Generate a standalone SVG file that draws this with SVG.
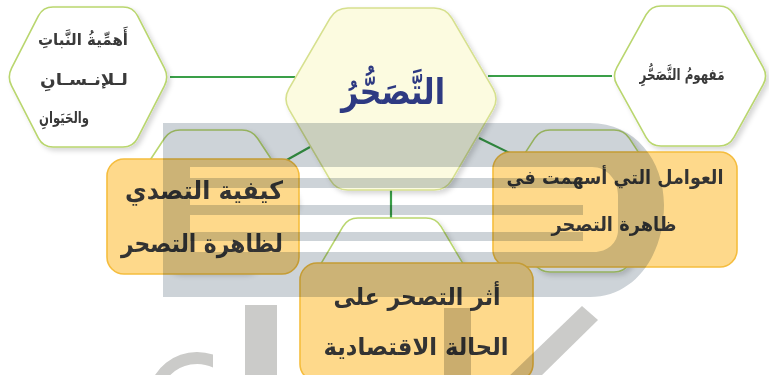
<svg xmlns="http://www.w3.org/2000/svg" width="769" height="375" viewBox="0 0 769 375">
<style>
  .hex { fill: #ffffff; stroke: #b9d66e; stroke-width: 1.6; filter: url(#sh); }
  .hexc { fill: #fcfbe0; stroke: #d6e08e; stroke-width: 1.6; filter: url(#sh); }
  .box { fill: #fed98b; stroke: #f5bd3e; stroke-width: 1.6; }
  .conn { stroke: #3a9f48; stroke-width: 2.2; fill: none; }
  .ht { font-family: "DejaVu Sans", "Noto Sans", sans-serif; font-weight: bold; font-size: 16px; fill: #3a3a3a; text-anchor: middle; }
  .bt { font-family: "DejaVu Sans", "Noto Sans", sans-serif; font-weight: bold; fill: #333333; text-anchor: middle; }
  .title { font-family: "DejaVu Sans", "Noto Sans", sans-serif; font-weight: bold; font-size: 36px; fill: #2e3a82; text-anchor: middle; }
  .wm { mix-blend-mode: multiply; }
  .wmd { fill: #cdd3d8; }
  .wml { fill: #cbcbc9; }
</style>
<defs>
  <filter id="sh" x="-10%" y="-10%" width="125%" height="125%">
    <feDropShadow dx="3" dy="3" stdDeviation="2.5" flood-color="#000000" flood-opacity="0.16"/>
  </filter>
</defs>
<rect width="769" height="375" fill="#ffffff"/>

<g id="connectors">
  <line class="conn" x1="170" y1="77" x2="295" y2="77"/>
  <line class="conn" x1="488" y1="76" x2="612" y2="76"/>
  <line class="conn" x1="310" y1="147" x2="276" y2="166"/>
  <line class="conn" x1="479" y1="138" x2="522" y2="159"/>
  <line class="conn" x1="391" y1="190" x2="391" y2="218"/>
</g>

<g id="node-importance">
  <path class="hex" d="M 53,7 H 123 Q 133,7 137.6,15.9 L 164.4,68.1 Q 169,77 164.4,85.9 L 137.6,138.1 Q 133,147 123,147 H 53 Q 43,147 38.4,138.1 L 11.6,85.9 Q 7,77 11.6,68.1 L 38.4,15.9 Q 43,7 53,7 Z"/>
  <text class="ht" x="83" y="45" textLength="90" lengthAdjust="spacingAndGlyphs">أَهمِّيةُ النَّباتِ</text>
  <text class="ht" x="84" y="85" textLength="88" lengthAdjust="spacingAndGlyphs">لـلإنـسـانِ</text>
  <text class="ht" x="64" y="123" textLength="50" lengthAdjust="spacingAndGlyphs">والحَيَوانِ</text>
</g>

<g id="node-center">
  <path class="hexc" d="M 348,8 H 434 Q 446,8 452,18.4 L 493,88.6 Q 499,99 493,109.4 L 452,179.6 Q 446,190 434,190 H 348 Q 336,190 330,179.6 L 289,109.4 Q 283,99 289,88.6 L 330,18.4 Q 336,8 348,8 Z"/>
  <text class="title" x="393" y="104" textLength="104" lengthAdjust="spacingAndGlyphs">التَّصَحُّرُ</text>
</g>

<g id="node-concept">
  <path class="hex" d="M 661,6 H 719 Q 729,6 733.9,14.7 L 763.1,67.3 Q 768,76 763.1,84.7 L 733.9,137.3 Q 729,146 719,146 H 661 Q 651,146 646.1,137.3 L 616.9,84.7 Q 612,76 616.9,67.3 L 646.1,14.7 Q 651,6 661,6 Z"/>
  <text class="ht" x="682" y="80" textLength="85" lengthAdjust="spacingAndGlyphs">مَفهومُ التَّصَحُّرِ</text>
</g>

<g id="node-response">
  <path class="hex" d="M 180,130 H 242 Q 252,130 257.5,138.3 L 293.5,192.7 Q 299,201 293.5,209.3 L 257.5,263.7 Q 252,272 242,272 H 180 Q 170,272 164.5,263.7 L 128.5,209.3 Q 123,201 128.5,192.7 L 164.5,138.3 Q 170,130 180,130 Z"/>
  <rect class="box" x="107" y="159" width="192" height="115" rx="17"/>
  <text class="bt" x="204" y="199" font-size="25" textLength="158" lengthAdjust="spacingAndGlyphs">كيفية التصدي</text>
  <text class="bt" x="202" y="252" font-size="25" textLength="162" lengthAdjust="spacingAndGlyphs">لظاهرة التصحر</text>
</g>

<g id="node-factors">
  <path class="hex" d="M 550,130 H 614 Q 624,130 629.4,138.4 L 664.6,192.6 Q 670,201 664.6,209.4 L 629.4,263.6 Q 624,272 614,272 H 550 Q 540,272 534.6,263.6 L 499.4,209.4 Q 494,201 499.4,192.6 L 534.6,138.4 Q 540,130 550,130 Z"/>
  <rect class="box" x="493" y="152" width="244" height="115" rx="17"/>
  <text class="bt" x="615" y="184" font-size="19.5" textLength="217" lengthAdjust="spacingAndGlyphs">العوامل التي أسهمت في</text>
  <text class="bt" x="614" y="231" font-size="19.5" textLength="125" lengthAdjust="spacingAndGlyphs">ظاهرة التصحر</text>
</g>

<g id="node-effect">
  <path class="hex" d="M 358,218 H 426 Q 436,218 441.1,226.6 L 472.9,280.4 Q 478,289 472.9,297.6 L 441.1,351.4 Q 436,360 426,360 H 358 Q 348,360 342.9,351.4 L 311.1,297.6 Q 306,289 311.1,280.4 L 342.9,226.6 Q 348,218 358,218 Z"/>
  <rect class="box" x="300" y="263" width="233" height="118" rx="17"/>
  <text class="bt" x="417" y="305" font-size="24" textLength="167" lengthAdjust="spacingAndGlyphs">أثر التصحر على</text>
  <text class="bt" x="416" y="355" font-size="24" textLength="185" lengthAdjust="spacingAndGlyphs">الحالة الاقتصادية</text>
</g>

<g id="watermark" class="wm">
  <path class="wmd" fill-rule="evenodd" d="M163,123 H 590 C 635,123 664,160 664,205 C 664,255 635,297 590,297 H 163 Z M190,167 H 592 C 607,167 618,180 618,195 V 230 C 618,243 607,252 594,252 H 190 Z"/>
  <rect class="wmd" x="190" y="178" width="393" height="10"/>
  <rect class="wmd" x="190" y="205" width="393" height="10"/>
  <rect class="wmd" x="190" y="232" width="393" height="9"/>
  <path class="wml" d="M 155,375 A 50 50 0 0 1 213,354.6 L 213,367.5 A 38 38 0 0 0 170.3,375 Z"/>
  <rect class="wml" x="245" y="305" width="32" height="75"/>
  <rect class="wml" x="444" y="308" width="27" height="72"/>
  <polygon class="wml" points="505,380 537,380 598,320 582,306"/>
</g>
</svg>
